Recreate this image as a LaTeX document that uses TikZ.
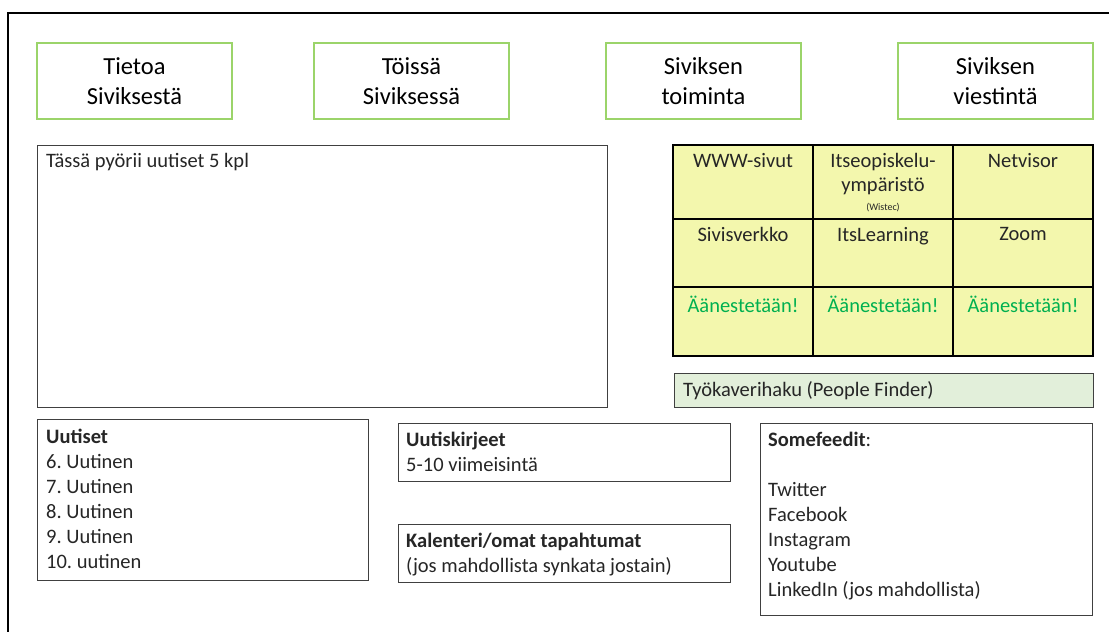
\documentclass[tikz,border=0pt]{standalone}
\usepackage{fontspec}
\setmainfont{Carlito}
\frenchspacing
\definecolor{topgreen}{HTML}{9BD46A}
\definecolor{gridfill}{HTML}{F3F7AD}
\definecolor{pfill}{HTML}{E2EFDA}
\definecolor{vote}{HTML}{00B050}
\definecolor{boxline}{HTML}{404040}
\begin{document}
\begin{tikzpicture}[x=1pt,y=-1pt,
  topbox/.style={draw=topgreen,line width=1.3pt,minimum width=195pt,minimum height=76pt,inner sep=0pt,outer sep=0pt,anchor=north west,align=center,font=\fontsize{24.5}{30}\selectfont},
  plainbox/.style={draw=boxline,line width=1pt,inner sep=0pt,outer sep=0pt,anchor=north west},
  cell/.style={draw=black,line width=1.2pt,fill=gridfill,minimum width=140pt,inner sep=0pt,outer sep=0pt,anchor=north west},
  txt/.style={inner sep=0pt,anchor=north west,align=left,font=\fontsize{20.5}{25}\selectfont\frenchspacing,text=black!85},
  celltxt/.style={inner sep=0pt,anchor=north,align=center,font=\fontsize{20.5}{24}\selectfont,text=black!85},
  votetxt/.style={celltxt,text=vote}]
\useasboundingbox (0,0) rectangle (1109,632);
\fill[white] (0,0) rectangle (1109,632);
% outer frame
\draw[line width=2pt] (8,640) -- (8,13) -- (1120,13);
% top boxes
\node[topbox] (b1) at (37,43) {Tietoa\\Siviksestä};
\node[topbox] (b2) at (314,43) {Töissä\\Siviksessä};
\node[topbox] (b3) at (606,43) {Siviksen\\toiminta};
\node[topbox] (b4) at (898,43) {Siviksen\\viestintä};
% news box
\node[plainbox,minimum width=570pt,minimum height=262pt] (news) at (37,145) {};
\node[txt] (newsT) at (46,153) {Tässä pyörii uutiset 5 kpl};
% grid
\node[cell,minimum height=74pt] (c11) at (673,145) {};
\node[cell,minimum height=74pt] (c12) at (813,145) {};
\node[cell,minimum height=74pt] (c13) at (953,145) {};
\node[cell,minimum height=68pt] (c21) at (673,219) {};
\node[cell,minimum height=68pt] (c22) at (813,219) {};
\node[cell,minimum height=68pt] (c23) at (953,219) {};
\node[cell,minimum height=69pt] (c31) at (673,287) {};
\node[cell,minimum height=69pt] (c32) at (813,287) {};
\node[cell,minimum height=69pt] (c33) at (953,287) {};
\node[celltxt] (t11) at (743,153) {WWW-sivut};
\node[celltxt] (t12) at (883,153) {Itseopiskelu-\\ympäristö\\[-5pt]{\fontsize{10}{12}\selectfont(Wistec)}};
\node[celltxt] (t13) at (1023,153) {Netvisor};
\node[celltxt] (t21) at (743,227) {Sivisverkko};
\node[celltxt] (t22) at (883,227) {ItsLearning};
\node[celltxt] (t23) at (1023,227) {Zoom};
\node[votetxt] (t31) at (743,296) {Äänestetään!};
\node[votetxt] (t32) at (883,296) {Äänestetään!};
\node[votetxt] (t33) at (1023,296) {Äänestetään!};
% people finder
\node[plainbox,fill=pfill,draw=boxline,minimum width=419pt,minimum height=34pt] (pf) at (674,373) {};
\node[txt] (pfT) at (683,381) {Työkaverihaku (People Finder)};
% bottom boxes
\node[plainbox,minimum width=331pt,minimum height=161pt] (uut) at (37,419) {};
\node[txt] (uutT) at (46,429) {\textbf{Uutiset}\\6. Uutinen\\7. Uutinen\\8. Uutinen\\9. Uutinen\\10. uutinen};
\node[plainbox,minimum width=332pt,minimum height=58pt] (kirj) at (398,423) {};
\node[txt] (kirjT) at (406,432) {\textbf{Uutiskirjeet}\\5-10 viimeisintä};
\node[plainbox,minimum width=332pt,minimum height=58pt] (kal) at (398,524) {};
\node[txt] (kalT) at (406,533) {\textbf{Kalenteri/omat tapahtumat}\\(jos mahdollista synkata jostain)};
\node[plainbox,minimum width=332pt,minimum height=192pt] (some) at (760,423) {};
\node[txt] (someT) at (768,432) {\textbf{Somefeedit}:\\[25pt]Twitter\\Facebook\\Instagram\\Youtube\\LinkedIn (jos mahdollista)};
\end{tikzpicture}
\end{document}
